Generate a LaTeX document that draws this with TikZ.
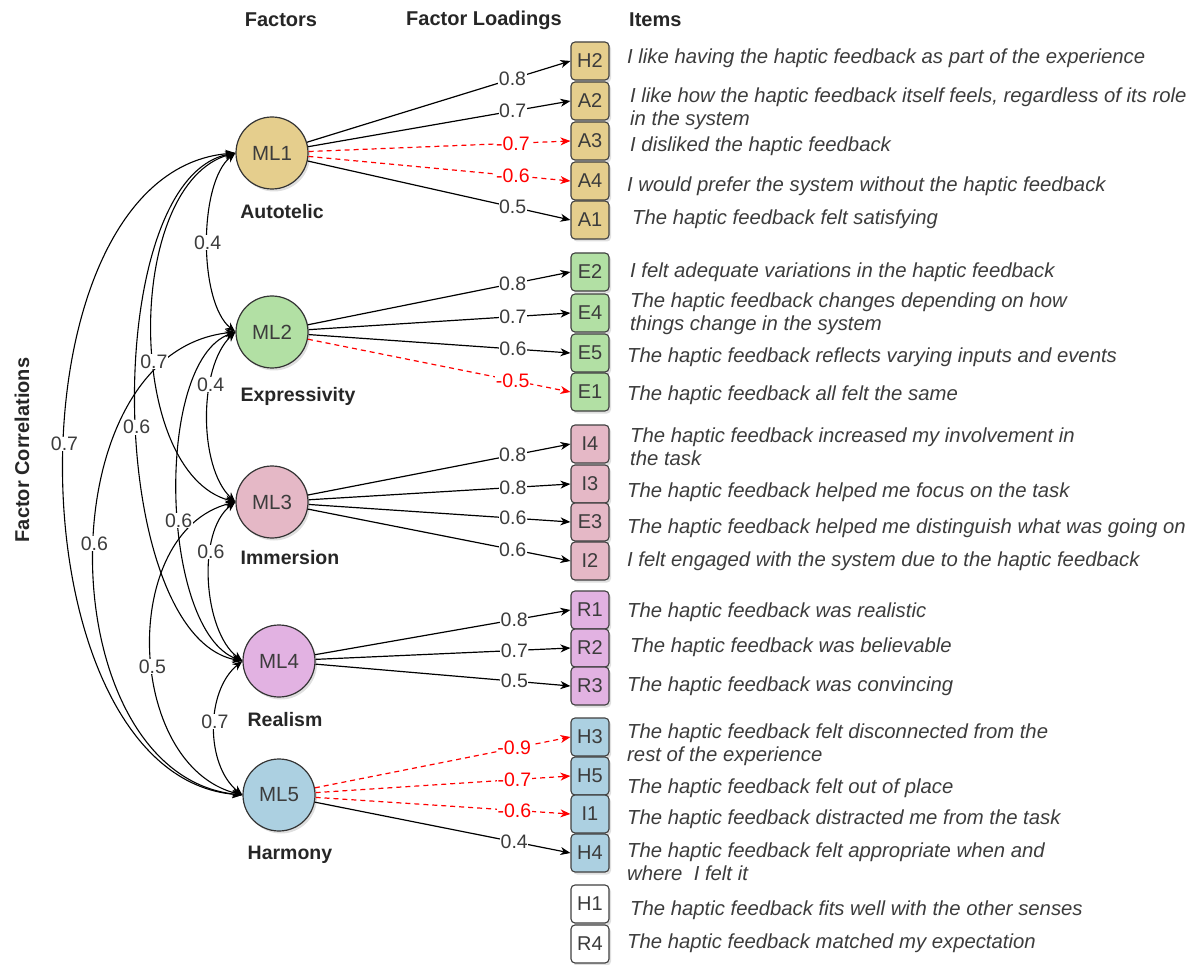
\documentclass[tikz,border=0pt]{standalone}
\usepackage{fontspec}
\setmainfont{Liberation Sans}
\usetikzlibrary{arrows.meta,shadows}
\definecolor{cA}{RGB}{229,206,141}
\definecolor{cE}{RGB}{178,224,164}
\definecolor{cI}{RGB}{229,184,198}
\definecolor{cR}{RGB}{226,178,226}
\definecolor{cH}{RGB}{172,208,225}
\definecolor{txtc}{RGB}{60,60,60}
\definecolor{negc}{RGB}{255,0,0}
\begin{document}
\begin{tikzpicture}[x=1pt,y=-1pt,
  shd/.style={drop shadow={shadow xshift=2pt,shadow yshift=-2.5pt,opacity=0.25}},
  fac/.style={circle,draw=black!80,line width=1.2pt,minimum size=72pt,inner sep=0pt,
    font=\fontsize{20.5}{24}\selectfont,text=txtc,shd},
  itembox/.style={draw=black!75,line width=1.1pt,rounded corners=4pt,minimum width=38pt,
    minimum height=38pt,inner sep=0pt,font=\fontsize{20}{24}\selectfont,text=txtc,shd},
  itemtxt/.style={anchor=west,inner sep=0pt,align=left,font=\fontsize{20.3}{23}\selectfont\itshape,text=txtc},
  fname/.style={font=\fontsize{19.5}{22}\selectfont\bfseries,text=black!85,inner sep=0pt},
  head/.style={font=\fontsize{20}{22}\selectfont\bfseries,text=black!85,inner sep=0pt},
  ld/.style={-{Stealth[length=10pt,width=8pt,inset=3pt]},line width=1.2pt,black},
  neg/.style={ld,draw=negc,dash pattern=on 5pt off 4pt},
  lbl/.style={pos=0.78,fill=white,inner sep=0.5pt,font=\fontsize{19.5}{20}\selectfont,text=txtc},
  nlbl/.style={lbl,text=negc},
  corr/.style={{Stealth[length=10pt,width=8pt,inset=3pt]}-{Stealth[length=10pt,width=8pt,inset=3pt]},line width=1.1pt,black},
  clbl/.style={fill=white,inner sep=0.5pt,font=\fontsize{19.5}{20}\selectfont,text=txtc}
]
\useasboundingbox (0,0) rectangle (1194,965);

% headers
\node[head] (h1) at (281,20) {Factors};
\node[head] (h2) at (484,20) {Factor Loadings};
\node[head,anchor=west] (h3) at (629,20) {Items};
\node[head,rotate=90] (h4) at (22,450) {Factor Correlations};

% factors
\node[fac,fill=cA] (ML1) at (272,153) {ML1};
\node[fac,fill=cE] (ML2) at (272,332) {ML2};
\node[fac,fill=cI] (ML3) at (272,502) {ML3};
\node[fac,fill=cR] (ML4) at (279,661) {ML4};
\node[fac,fill=cH] (ML5) at (279,795) {ML5};

\node[fname] (n1) at (282,212) {Autotelic};
\node[fname] (n2) at (298,396) {Expressivity};
\node[fname] (n3) at (290,558) {Immersion};
\node[fname] (n4) at (285,720) {Realism};
\node[fname] (n5) at (290,855) {Harmony};

% item boxes
\node[itembox,fill=cA] (H2) at (590,61) {H2};
\node[itembox,fill=cA] (A2) at (590,101) {A2};
\node[itembox,fill=cA] (A3) at (590,141) {A3};
\node[itembox,fill=cA] (A4) at (590,181) {A4};
\node[itembox,fill=cA] (A1) at (590,220) {A1};
\node[itembox,fill=cE] (E2) at (590,272) {E2};
\node[itembox,fill=cE] (E4) at (590,313) {E4};
\node[itembox,fill=cE] (E5) at (590,353) {E5};
\node[itembox,fill=cE] (E1) at (590,392) {E1};
\node[itembox,fill=cI] (I4) at (590,444) {I4};
\node[itembox,fill=cI] (I3) at (590,484) {I3};
\node[itembox,fill=cI] (E3) at (590,522) {E3};
\node[itembox,fill=cI] (I2) at (590,561) {I2};
\node[itembox,fill=cR] (R1) at (590,610) {R1};
\node[itembox,fill=cR] (R2) at (590,648) {R2};
\node[itembox,fill=cR] (R3) at (590,686) {R3};
\node[itembox,fill=cH] (H3) at (590,737) {H3};
\node[itembox,fill=cH] (H5) at (590,776) {H5};
\node[itembox,fill=cH] (I1) at (590,814) {I1};
\node[itembox,fill=cH] (H4) at (590,853) {H4};
\node[itembox,fill=white] (H1) at (590,904) {H1};
\node[itembox,fill=white] (R4) at (590,944) {R4};

% item texts
\node[itemtxt] (q1) at (627,58.5) {I like having the haptic feedback as part of the experience};
\node[itemtxt] (q2) at (630,108.5) {I like how the haptic feedback itself feels, regardless of its role\\in the system};
\node[itemtxt] (q3) at (630,146.5) {I disliked the haptic feedback};
\node[itemtxt] (q4) at (627,186.5) {I would prefer the system without the haptic feedback};
\node[itemtxt] (q5) at (632,219.5) {The haptic feedback felt satisfying};
\node[itemtxt] (q6) at (630,272.5) {I felt adequate variations in the haptic feedback};
\node[itemtxt] (q7) at (630,314) {The haptic feedback changes depending on how\\things change in the system};
\node[itemtxt] (q8) at (627,357.5) {The haptic feedback reflects varying inputs and events};
\node[itemtxt] (q9) at (627,395.5) {The haptic feedback all felt the same};
\node[itemtxt] (q10) at (630,447) {The haptic feedback increased my involvement in\\the task};
\node[itemtxt] (q11) at (627,492.5) {The haptic feedback helped me focus on the task};
\node[itemtxt] (q12) at (627,528.5) {The haptic feedback helped me distinguish what was going on};
\node[itemtxt] (q13) at (627,561.5) {I felt engaged with the system due to the haptic feedback};
\node[itemtxt] (q14) at (627,612.5) {The haptic feedback was realistic};
\node[itemtxt] (q15) at (630,647.5) {The haptic feedback was believable};
\node[itemtxt] (q16) at (627,686.5) {The haptic feedback was convincing};
\node[itemtxt] (q17) at (627,745) {The haptic feedback felt disconnected from the\\rest of the experience};
\node[itemtxt] (q18) at (627,788.5) {The haptic feedback felt out of place};
\node[itemtxt] (q19) at (627,819.5) {The haptic feedback distracted me from the task};
\node[itemtxt] (q20) at (627,862) {The haptic feedback felt appropriate when and\\where\ \ I felt it};
\node[itemtxt] (q21) at (630,910.5) {The haptic feedback fits well with the other senses};
\node[itemtxt] (q22) at (627,943.5) {The haptic feedback matched my expectation};

% loadings
\draw[ld]  (ML1) -- node[lbl]{0.8} (H2.west);
\draw[ld]  (ML1) -- node[lbl]{0.7} (A2.west);
\draw[neg] (ML1) -- node[nlbl]{-0.7} (A3.west);
\draw[neg] (ML1) -- node[nlbl]{-0.6} (A4.west);
\draw[ld]  (ML1) -- node[lbl]{0.5} (A1.west);

\draw[ld]  (ML2) -- node[lbl]{0.8} (E2.west);
\draw[ld]  (ML2) -- node[lbl]{0.7} (E4.west);
\draw[ld]  (ML2) -- node[lbl]{0.6} (E5.west);
\draw[neg] (ML2) -- node[nlbl]{-0.5} (E1.west);

\draw[ld]  (ML3) -- node[lbl]{0.8} (I4.west);
\draw[ld]  (ML3) -- node[lbl]{0.8} (I3.west);
\draw[ld]  (ML3) -- node[lbl]{0.6} (E3.west);
\draw[ld]  (ML3) -- node[lbl]{0.6} (I2.west);

\draw[ld]  (ML4) -- node[lbl]{0.8} (R1.west);
\draw[ld]  (ML4) -- node[lbl]{0.7} (R2.west);
\draw[ld]  (ML4) -- node[lbl]{0.5} (R3.west);

\draw[neg] (ML5) -- node[nlbl]{-0.9} (H3.west);
\draw[neg] (ML5) -- node[nlbl]{-0.7} (H5.west);
\draw[neg] (ML5) -- node[nlbl]{-0.6} (I1.west);
\draw[ld]  (ML5) -- node[lbl]{0.4} (H4.west);

% correlations
\draw[corr] (ML1.west) .. controls +(-233,18) and +(-233,-18) .. node[clbl,pos=0.468]{0.7} (ML5.west);
\draw[corr] (ML2.west) .. controls +(-193,20) and +(-193,-20) .. node[clbl,pos=0.47]{0.6} (ML5.west);
\draw[corr] (ML1.west) .. controls +(-137,25) and +(-137,-25) .. node[clbl,pos=0.528]{0.6} (ML4.west);
\draw[corr] (ML1.west) .. controls +(-111,30) and +(-111,-30) .. node[clbl,pos=0.572]{0.7} (ML3.west);
\draw[corr] (ML3.west) .. controls +(-117,30) and +(-117,-30) .. node[clbl,pos=0.546]{0.5} (ML5.west);
\draw[corr] (ML2.west) .. controls +(-82,30) and +(-82,-30) .. node[clbl,pos=0.554]{0.6} (ML4.west);
\draw[corr] (ML1.west) .. controls +(-37,30) and +(-37,-30) .. node[clbl,pos=0.5]{0.4} (ML2.west);
\draw[corr] (ML2.west) .. controls +(-37,35) and +(-37,-35) .. node[clbl,pos=0.337]{0.4} (ML3.west);
\draw[corr] (ML3.west) .. controls +(-39,30) and +(-39,-30) .. node[clbl,pos=0.345]{0.6} (ML4.west);
\draw[corr] (ML4.west) .. controls +(-37,30) and +(-37,-30) .. node[clbl,pos=0.46]{0.7} (ML5.west);
\end{tikzpicture}
\end{document}
